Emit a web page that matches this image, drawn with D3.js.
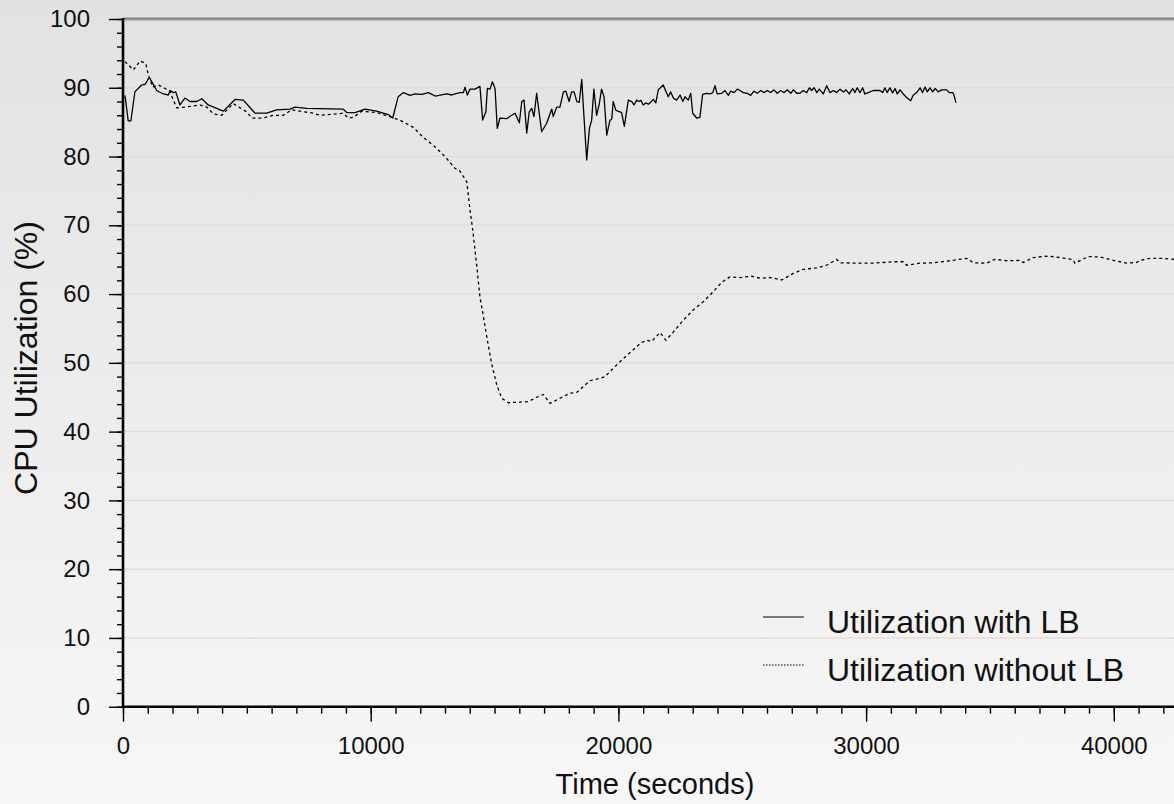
<!DOCTYPE html>
<html>
<head>
<meta charset="utf-8">
<script src="https://cdn.jsdelivr.net/npm/d3@7"></script>
<style>
  html, body { margin: 0; padding: 0; overflow: hidden; }
  text { font-family: "Liberation Sans", Arial, sans-serif; fill: #111; }
</style>
</head>
<body>
<div id="container"></div>
<script>
// --- data ---
const timeWithLB = [80, 210, 320, 480, 750, 890, 1060, 1160, 1360, 1630, 1830, 1900, 2030, 2130, 2300, 2500, 2700, 2980, 3180, 3440,
    4050, 4520, 4860, 5330, 5800, 6200, 6740, 6940, 7420, 8890, 9030, 9370, 9770, 10240, 10710, 10890, 11110, 11320, 11590, 11790,
    12060, 12330, 12600, 13070, 13270, 13600, 13740, 13810, 13900, 14010, 14210, 14410, 14520, 14650, 14710, 14820, 14910, 15020, 15110, 15220,
    15490, 15690, 15830, 16000, 16100, 16190, 16300, 16400, 16500, 16590, 16700, 16900, 17100, 17310, 17370, 17510, 17640, 17780, 17880, 18010,
    18110, 18210, 18320, 18420, 18520, 18610, 18720, 18830, 18920, 19010, 19120, 19230, 19320, 19420, 19530, 19660, 19730, 19790, 19900, 20060,
    20130, 20240, 20400, 20540, 20630, 20740, 20840, 20910, 21000, 21110, 21210, 21300, 21410, 21510, 21610, 21810, 21950, 22010, 22110, 22220,
    22350, 22490, 22600, 22690, 22820, 22920, 23000, 23160, 23290, 23400, 23560, 23700, 23810, 23900, 23990, 24170, 24300, 24440, 24530, 24670,
    24800, 24910, 25040, 25200, 25340, 25470, 25610, 25740, 25880, 26010, 26150, 26280, 26410, 26550, 26690, 26820, 26960, 27060, 27200, 27330,
    27460, 27600, 27710, 27800, 27900, 28010, 28110, 28270, 28410, 28540, 28680, 28810, 28950, 29080, 29190, 29320, 29460, 29550, 29640, 29750,
    29860, 29950, 30090, 30290, 30560, 30670, 30760, 30850, 30960, 31070, 31170, 31260, 31370, 31500, 31660, 31800, 31900, 32040, 32180, 32280,
    32380, 32470, 32580, 32690, 32790, 32910, 33050, 33250, 33360, 33500, 33550, 33630];
const utilWithLB = [88.9, 85.2, 85.2, 89.4, 90.4, 90.5, 91.5, 90.9, 89.6, 89.1, 88.95, 89.6, 89.3, 89.4, 87.5, 88.5, 88.0, 88.0, 88.4, 87.5,
    86.6, 88.3, 88.2, 86.3, 86.3, 86.8, 86.9, 87.2, 87.0, 86.9, 86.4, 86.4, 86.9, 86.6, 86.1, 85.6, 88.7, 89.3, 88.9, 89.1,
    89.05, 89.3, 88.8, 89.1, 88.95, 89.3, 89.3, 90.1, 88.95, 89.8, 89.8, 90.2, 85.3, 86.5, 89.9, 89.8, 90.9, 89.9, 84.1, 85.6,
    85.5, 86.0, 86.3, 84.9, 88.0, 88.2, 83.4, 86.5, 87.0, 85.8, 89.2, 83.6, 84.8, 86.9, 85.8, 87.2, 87.2, 89.4, 89.5, 88.0,
    89.4, 89.4, 88.0, 87.9, 91.2, 85.8, 79.5, 84.1, 85.3, 89.8, 86.0, 87.7, 89.8, 88.7, 83.1, 85.3, 85.4, 88.0, 86.7, 86.5,
    86.4, 84.4, 88.2, 88.0, 87.5, 88.2, 88.0, 88.2, 87.5, 87.8, 87.6, 87.9, 88.3, 87.8, 89.7, 90.4, 89.2, 88.7, 89.4, 88.5,
    88.2, 88.95, 88.0, 88.7, 88.2, 89.2, 86.3, 85.6, 85.7, 89.05, 89.2, 89.1, 89.3, 90.3, 89.1, 89.2, 89.6, 88.9, 89.5, 89.3,
    89.8, 89.6, 89.3, 89.2, 88.9, 89.5, 89.2, 89.6, 89.3, 89.6, 89.3, 89.7, 89.2, 89.6, 89.3, 89.7, 89.2, 89.7, 89.2, 89.2,
    89.6, 89.3, 90.0, 89.6, 90.0, 89.3, 89.8, 89.1, 90.3, 89.3, 89.6, 89.3, 89.8, 89.4, 89.7, 89.1, 89.9, 89.3, 90.0, 89.3,
    90.0, 89.1, 89.3, 89.6, 89.6, 89.3, 90.0, 89.3, 90.0, 89.25, 89.9, 89.1, 89.7, 89.1, 88.5, 88.1, 88.9, 89.3, 90.0, 89.3,
    90.1, 89.4, 90.0, 89.4, 89.9, 89.4, 89.7, 89.7, 89.3, 89.3, 88.9, 87.8];

const timeWithoutLB = [80, 420, 690, 920, 1020, 1200, 1430, 1700, 1900, 2030, 2170, 2500, 2840, 3110, 3380, 3650, 3980, 4450, 4990, 5200,
    5660, 6070, 6470, 6810, 7680, 7950, 8890, 9100, 9300, 9640, 10240, 10850, 11180, 11380, 11720, 12120, 12600, 13000, 13400, 13600,
    13880, 14010, 14120, 14210, 14300, 14410, 14550, 14710, 14880, 15090, 15290, 15560, 16030, 16360, 16700, 16970, 17240, 17640, 18050, 18320,
    18850, 19260, 19460, 19790, 20130, 20600, 20870, 21140, 21340, 21680, 21920, 22220, 22620, 23020, 23430, 23830, 24170, 24500, 24910, 25380,
    25720, 26190, 26590, 27060, 27460, 28000, 28410, 28810, 28950, 29620, 30290, 31100, 31500, 31640, 32180, 32710, 33390, 34060, 34330, 34870,
    35200, 35680, 36210, 36350, 36750, 37220, 37560, 38030, 38360, 38430, 38970, 39440, 39980, 40520, 40920, 41060, 41460, 41970, 42600, 43200];
const utilWithoutLB = [93.8, 92.6, 93.9, 93.5, 91.9, 90.1, 90.4, 89.9, 89.5, 88.2, 87.1, 87.2, 87.35, 87.5, 87.2, 86.2, 86.0, 87.7, 86.5, 85.6,
    85.6, 86.0, 86.0, 86.8, 86.3, 86.0, 86.3, 85.6, 85.7, 86.6, 86.4, 85.7, 85.3, 84.9, 84.25, 82.8, 81.4, 80.0, 78.3, 77.9,
    76.3, 72.2, 69.3, 66.4, 63.5, 59.6, 56.7, 53.3, 49.9, 46.8, 44.85, 44.2, 44.3, 44.35, 45.0, 45.4, 44.1, 44.85, 45.6, 45.7,
    47.4, 47.75, 48.0, 49.2, 50.4, 51.9, 52.8, 53.3, 53.1, 54.4, 53.3, 54.5, 56.2, 57.7, 58.9, 60.35, 61.7, 62.5, 62.4, 62.6,
    62.3, 62.4, 62.05, 63.0, 63.6, 63.8, 64.2, 65.05, 64.55, 64.5, 64.5, 64.7, 64.7, 64.2, 64.5, 64.55, 64.85, 65.2, 64.55, 64.5,
    65.05, 64.85, 64.9, 64.6, 65.3, 65.5, 65.45, 65.2, 65.0, 64.5, 65.45, 65.4, 64.9, 64.5, 64.6, 64.9, 65.2, 65.2, 65.0, 65.1];

const xTicks = [0, 10000, 20000, 30000, 40000];
const yTicks = [0, 10, 20, 30, 40, 50, 60, 70, 80, 90, 100];
const gridValues = [10, 20, 30, 40, 50, 60, 70, 80, 90];
const legendLabels = ['Utilization with LB', 'Utilization without LB'];

const W = 1174, H = 804;
const plotLeft = 123, plotTop = 19, plotBottom = 706.7;

const svg = d3.select('#container').append('svg')
    .attr('width', W)
    .attr('height', H)
    .style('display', 'block');

const defs = svg.append('defs');
const grad = defs.append('linearGradient').attr('id', 'bg')
    .attr('x1', 0).attr('y1', 0).attr('x2', 0).attr('y2', 1);
grad.append('stop').attr('offset', '0%').attr('stop-color', '#e2e2e2');
grad.append('stop').attr('offset', '100%').attr('stop-color', '#f7f7f7');
defs.append('clipPath').attr('id', 'plot')
    .append('rect').attr('x', plotLeft).attr('y', plotTop - 2)
    .attr('width', W - plotLeft).attr('height', plotBottom - plotTop + 2);

svg.append('rect').attr('width', W).attr('height', H).attr('fill', 'url(#bg)');

const x = d3.scaleLinear().domain([0, 44000]).range([plotLeft, plotLeft + 44000 * 0.02477]);
const y = d3.scaleLinear().domain([0, 100]).range([plotBottom, plotTop]);

// grid
svg.append('g').selectAll('line').data(gridValues).join('line')
    .attr('x1', plotLeft).attr('x2', W)
    .attr('y1', d => y(d)).attr('y2', d => y(d))
    .attr('stroke', '#ecd9ce').attr('stroke-width', 1.5);

// top frame at 100
svg.append('line').attr('x1', plotLeft).attr('x2', W).attr('y1', y(100) + 0.8).attr('y2', y(100) + 0.8)
    .attr('stroke', '#a3968f').attr('stroke-width', 1.6);
svg.append('line').attr('x1', plotLeft).attr('x2', W).attr('y1', y(100) - 0.8).attr('y2', y(100) - 0.8)
    .attr('stroke', '#555').attr('stroke-width', 1);

// lines
const lineGen = d3.line().x(d => x(d[0])).y(d => y(d[1]));
const plot = svg.append('g').attr('clip-path', 'url(#plot)');

plot.append('path')
    .datum(d3.zip(timeWithoutLB, utilWithoutLB))
    .attr('d', lineGen)
    .attr('fill', 'none')
    .attr('stroke', '#000')
    .attr('stroke-width', 1.3)
    .attr('stroke-dasharray', '3,3');

plot.append('path')
    .datum(d3.zip(timeWithLB, utilWithLB))
    .attr('d', lineGen)
    .attr('fill', 'none')
    .attr('stroke', '#000')
    .attr('stroke-width', 1.3)
    .attr('stroke-linejoin', 'round');

// axes
const xMinor = svg.append('g').attr('transform', `translate(0,${plotBottom})`)
    .call(d3.axisBottom(x).tickValues(d3.range(0, 44001, 1000)).tickSize(7).tickFormat(''));
const xMajor = svg.append('g').attr('transform', `translate(0,${plotBottom})`)
    .call(d3.axisBottom(x).tickValues(xTicks).tickSize(15).tickPadding(15).tickFormat(d3.format('d')));
const yMinor = svg.append('g').attr('transform', `translate(${plotLeft},0)`)
    .call(d3.axisLeft(y).tickValues(d3.range(0, 101, 2)).tickSize(6).tickFormat(''));
const yMajor = svg.append('g').attr('transform', `translate(${plotLeft},0)`)
    .call(d3.axisLeft(y).tickValues(yTicks).tickSize(14).tickPadding(19));

[xMinor, xMajor, yMinor, yMajor].forEach(g => {
    g.selectAll('.domain').remove();
    g.selectAll('.tick line').attr('stroke', '#000').attr('stroke-width', 1.4);
    g.selectAll('.tick text').style('font-size', '24px').attr('fill', '#111');
});

svg.append('line').attr('x1', plotLeft).attr('x2', W).attr('y1', plotBottom).attr('y2', plotBottom)
    .attr('stroke', '#000').attr('stroke-width', 2.6);
svg.append('line').attr('x1', plotLeft).attr('x2', plotLeft).attr('y1', plotTop - 1).attr('y2', plotBottom + 1.3)
    .attr('stroke', '#000').attr('stroke-width', 2.6);

// axis titles
svg.append('text')
    .text('Time (seconds)')
    .attr('x', 655).attr('y', 794)
    .attr('text-anchor', 'middle')
    .style('font-size', '29px');

svg.append('text')
    .text('CPU Utilization (%)')
    .attr('transform', 'translate(37 358) rotate(-90)')
    .attr('text-anchor', 'middle')
    .style('font-size', '32px');

// legend
const legend = svg.append('g');
const legendY = [617, 665];
legendLabels.forEach((label, i) => {
    legend.append('line')
        .attr('x1', 763).attr('x2', 804)
        .attr('y1', legendY[i]).attr('y2', legendY[i])
        .attr('stroke', '#000')
        .attr('stroke-width', 1)
        .attr('stroke-dasharray', i === 1 ? '1.5,1.5' : null);
    legend.append('text')
        .text(label)
        .attr('x', 827).attr('y', legendY[i] + 16)
        .style('font-size', '32px');
});
</script>
</body>
</html>
